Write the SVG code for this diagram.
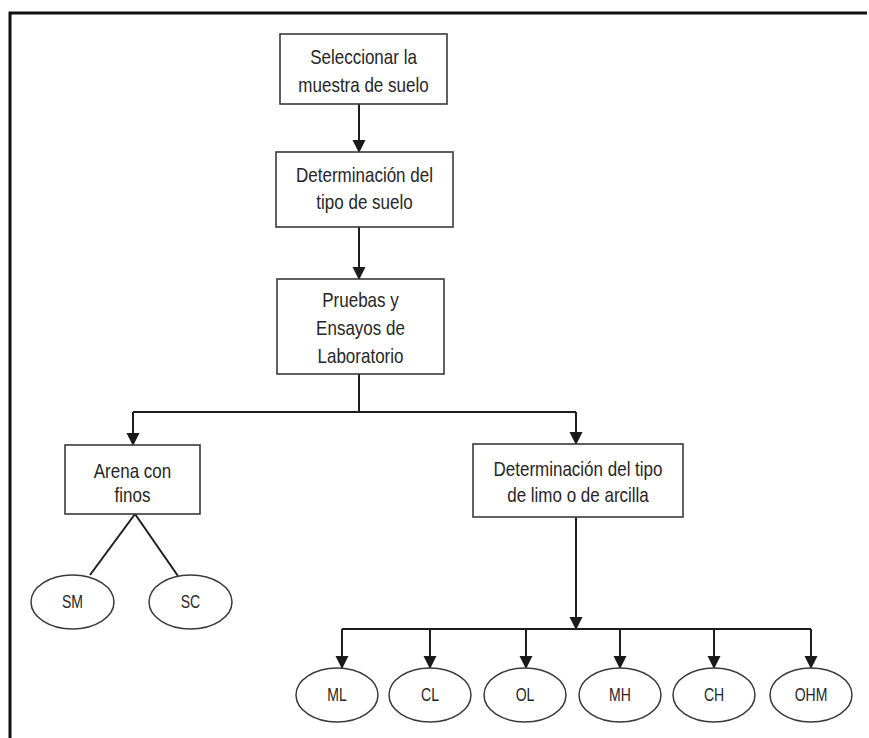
<svg xmlns="http://www.w3.org/2000/svg" width="869" height="738" viewBox="0 0 869 738">
<defs>
<marker id="ah" markerUnits="userSpaceOnUse" markerWidth="13" markerHeight="14" refX="12" refY="6.5" orient="auto">
<path d="M0,0 L13,6.5 L0,13 Z" fill="#1a1a1a"/>
</marker>
<style>
.box{fill:#fff;stroke:#3a3a3a;stroke-width:1.6}
.ell{fill:#fff;stroke:#3a3a3a;stroke-width:1.5}
.t{font-family:"Liberation Sans",Arial,sans-serif;font-size:20px;fill:#262626;text-anchor:middle}
.e{font-family:"Liberation Sans",Arial,sans-serif;font-size:18px;fill:#262626;text-anchor:middle}
.c{stroke:#1e1e1e;stroke-width:2;fill:none}
.a{stroke:#1e1e1e;stroke-width:2;fill:none;marker-end:url(#ah)}
.f{stroke:#111;stroke-width:3;fill:none}
</style>
</defs>
<rect width="869" height="738" fill="#fff"/>
<g id="frame">
<path class="f" d="M10,738 L10,13 L867,13"/>
</g>
<g id="connectors">
<line class="a" x1="359" y1="104" x2="359" y2="152"/>
<line class="a" x1="359" y1="227" x2="359" y2="279"/>
<line class="c" x1="359" y1="374" x2="359" y2="412"/>
<line class="c" x1="133" y1="412" x2="576" y2="412"/>
<line class="a" x1="133" y1="412" x2="133" y2="445"/>
<line class="a" x1="576" y1="412" x2="576" y2="444"/>
<line class="c" x1="135" y1="514" x2="90" y2="575"/>
<line class="c" x1="135" y1="514" x2="178" y2="576"/>
<line class="a" x1="576" y1="517" x2="576" y2="629"/>
<line class="c" x1="342" y1="629" x2="811" y2="629"/>
<line class="a" x1="342" y1="629" x2="342" y2="668"/>
<line class="a" x1="430" y1="629" x2="430" y2="668"/>
<line class="a" x1="526" y1="629" x2="526" y2="668"/>
<line class="a" x1="620" y1="629" x2="620" y2="668"/>
<line class="a" x1="714" y1="629" x2="714" y2="668"/>
<line class="a" x1="811" y1="629" x2="811" y2="668"/>
</g>
<g id="n1">
<rect class="box" x="280" y="34" width="167" height="70"/>
<text class="t" transform="matrix(0.85 0 0 1 363.5 0)" y="64">Seleccionar la</text>
<text class="t" transform="matrix(0.85 0 0 1 363.5 0)" y="92">muestra de suelo</text>
</g>
<g id="n2">
<rect class="box" x="276" y="152" width="177" height="75"/>
<text class="t" transform="matrix(0.85 0 0 1 364.5 0)" y="182">Determinación del</text>
<text class="t" transform="matrix(0.85 0 0 1 364.5 0)" y="209">tipo de suelo</text>
</g>
<g id="n3">
<rect class="box" x="277" y="279" width="167" height="95"/>
<text class="t" transform="matrix(0.85 0 0 1 360.5 0)" y="307">Pruebas y</text>
<text class="t" transform="matrix(0.85 0 0 1 360.5 0)" y="335">Ensayos de</text>
<text class="t" transform="matrix(0.85 0 0 1 360.5 0)" y="363">Laboratorio</text>
</g>
<g id="n4">
<rect class="box" x="65" y="445" width="135" height="69"/>
<text class="t" transform="matrix(0.85 0 0 1 132.5 0)" y="478">Arena con</text>
<text class="t" transform="matrix(0.85 0 0 1 132.5 0)" y="502">finos</text>
</g>
<g id="n5">
<rect class="box" x="473" y="444" width="210" height="73"/>
<text class="t" transform="matrix(0.85 0 0 1 578 0)" y="476">Determinación del tipo</text>
<text class="t" transform="matrix(0.85 0 0 1 578 0)" y="502">de limo o de arcilla</text>
</g>
<g id="sm">
<ellipse class="ell" cx="72.5" cy="602" rx="41.5" ry="27"/>
<text class="e" transform="matrix(0.78 0 0 1 72.5 0)" y="608.5">SM</text>
</g>
<g id="sc">
<ellipse class="ell" cx="190.5" cy="602" rx="41.5" ry="27"/>
<text class="e" transform="matrix(0.78 0 0 1 190.5 0)" y="608.5">SC</text>
</g>
<g id="ml">
<ellipse class="ell" cx="337" cy="695" rx="41" ry="27"/>
<text class="e" transform="matrix(0.78 0 0 1 337 0)" y="701.5">ML</text>
</g>
<g id="cl">
<ellipse class="ell" cx="430" cy="695" rx="41" ry="27"/>
<text class="e" transform="matrix(0.78 0 0 1 430 0)" y="701.5">CL</text>
</g>
<g id="ol">
<ellipse class="ell" cx="525" cy="695" rx="41" ry="27"/>
<text class="e" transform="matrix(0.78 0 0 1 525 0)" y="701.5">OL</text>
</g>
<g id="mh">
<ellipse class="ell" cx="620" cy="695" rx="41" ry="27"/>
<text class="e" transform="matrix(0.78 0 0 1 620 0)" y="701.5">MH</text>
</g>
<g id="ch">
<ellipse class="ell" cx="714" cy="695" rx="41" ry="27"/>
<text class="e" transform="matrix(0.78 0 0 1 714 0)" y="701.5">CH</text>
</g>
<g id="ohm">
<ellipse class="ell" cx="811" cy="695" rx="41" ry="27"/>
<text class="e" transform="matrix(0.78 0 0 1 811 0)" y="701.5">OHM</text>
</g>
</svg>
